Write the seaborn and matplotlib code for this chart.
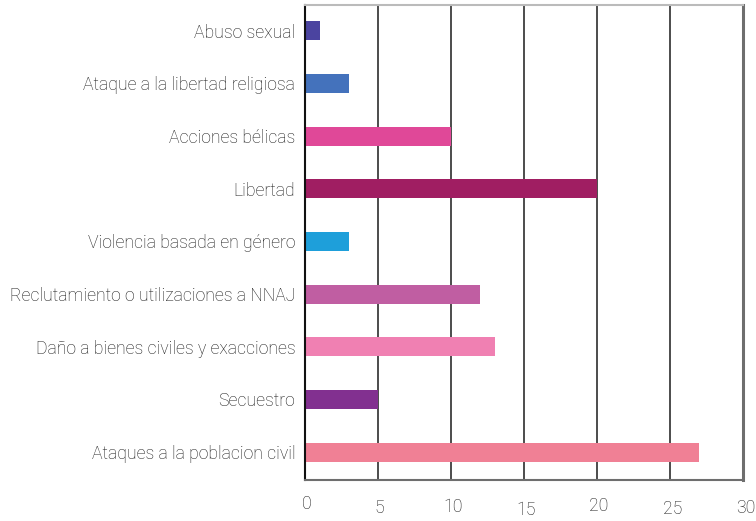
import matplotlib
matplotlib.use("Agg")
import matplotlib.pyplot as plt
import matplotlib.transforms as mtransforms
import seaborn as sns
import pandas as pd

categorias = [
    "Abuso sexual",
    "Ataque a la libertad religiosa",
    "Acciones bélicas",
    "Libertad",
    "Violencia basada en género",
    "Reclutamiento o utilizaciones a NNAJ",
    "Daño a bienes civiles y exacciones",
    "Secuestro",
    "Ataques a la poblacion civil",
]
valores = [1, 3, 10, 20, 3, 12, 13, 5, 27]
colores = [
    "#4b44a0", "#4472bc", "#e04898", "#a01e62", "#1e9fda",
    "#c05ea2", "#f080b2", "#823090", "#f08095",
]
ticks_x = [0, 5, 10, 15, 20, 25, 30]

sns.set_theme(style="white")
plt.rcParams["font.family"] = ["Roboto", "DejaVu Sans"]

df = pd.DataFrame({"categoria": categorias, "valor": valores})

fig = plt.figure(figsize=(7.56, 5.21), dpi=100)
ax = fig.add_axes([305 / 756, 1 - 480 / 521, 438 / 756, 475 / 521])

sns.barplot(
    data=df, y="categoria", x="valor", hue="categoria",
    palette=colores, order=categorias, hue_order=categorias,
    width=0.36, legend=False, saturation=1, linewidth=0,
    ax=ax, zorder=3,
)

ax.set_xlim(0, 30)
ax.set_ylim(8.53, -0.49)
ax.set_xticks(ticks_x)
ax.set_xticklabels([str(t) for t in ticks_x])
ax.set_xlabel("")
ax.set_ylabel("")

for t in ticks_x[1:-1]:
    ax.axvline(t, color="#2e2e2e", lw=1.2, zorder=1)

ax.tick_params(axis="y", length=0, pad=7, labelsize=12.7, labelcolor="#1a1a1a")
ax.tick_params(axis="x", length=0, pad=11, labelsize=12.7, labelcolor="#1a1a1a")
for lab in ax.get_yticklabels() + ax.get_xticklabels():
    lab.set_fontweight("light")

# staggered placement of the x tick labels
shifts = [(2, 0), (1, -4), (2, -3), (2, -6), (2, -1.5), (3, -5), (3, -4)]
for lab, (dx, dy) in zip(ax.get_xticklabels(), shifts):
    off = mtransforms.ScaledTranslation(dx / 100, dy / 100, fig.dpi_scale_trans)
    lab.set_transform(lab.get_transform() + off)

ax.spines["left"].set_color("#111111")
ax.spines["left"].set_linewidth(1.5)
ax.spines["top"].set_color("#bbbbbb")
ax.spines["top"].set_linewidth(1.5)
ax.spines["right"].set_color("#6e6e6e")
ax.spines["right"].set_linewidth(2.2)
ax.spines["bottom"].set_color("#6e6e6e")
ax.spines["bottom"].set_linewidth(1.5)
for s in ax.spines.values():
    s.set_zorder(4)

fig.savefig("out.png", dpi=100)
